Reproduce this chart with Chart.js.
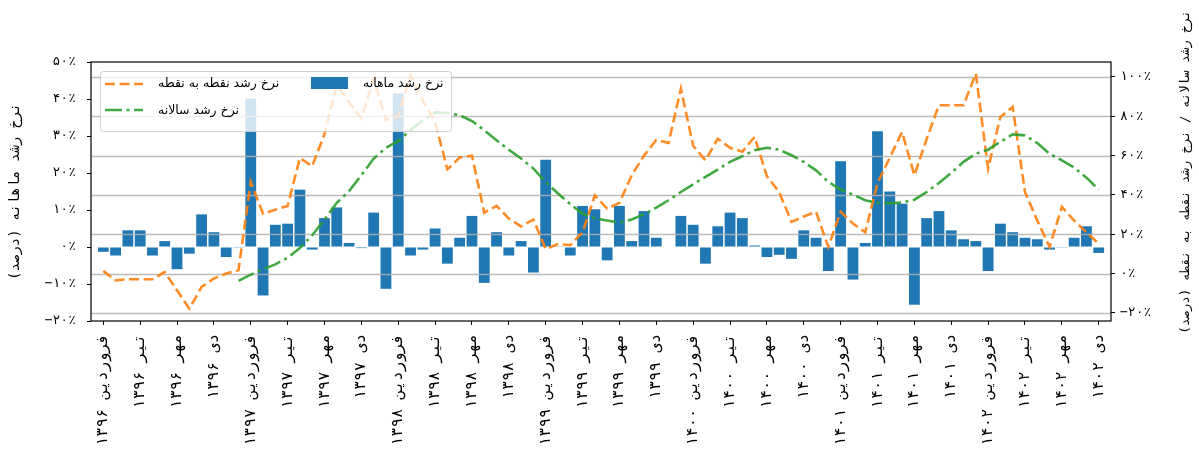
<!DOCTYPE html>
<html>
<head>
<meta charset="utf-8">
<script src="https://cdn.jsdelivr.net/npm/chart.js@4"></script>
<style>
  html, body { margin: 0; padding: 0; background: #fff; }
</style>
</head>
<body>
<canvas id="growthChart" width="1199" height="450"></canvas>
<script>
// x tick labels, one every three months (Farvardin 1396 .. Dey 1402)
var tickLabels = [
    'فروردین ۱۳۹۶', 'تیر ۱۳۹۶', 'مهر ۱۳۹۶', 'دی ۱۳۹۶',
    'فروردین ۱۳۹۷', 'تیر ۱۳۹۷', 'مهر ۱۳۹۷', 'دی ۱۳۹۷',
    'فروردین ۱۳۹۸', 'تیر ۱۳۹۸', 'مهر ۱۳۹۸', 'دی ۱۳۹۸',
    'فروردین ۱۳۹۹', 'تیر ۱۳۹۹', 'مهر ۱۳۹۹', 'دی ۱۳۹۹',
    'فروردین ۱۴۰۰', 'تیر ۱۴۰۰', 'مهر ۱۴۰۰', 'دی ۱۴۰۰',
    'فروردین ۱۴۰۱', 'تیر ۱۴۰۱', 'مهر ۱۴۰۱', 'دی ۱۴۰۱',
    'فروردین ۱۴۰۲', 'تیر ۱۴۰۲', 'مهر ۱۴۰۲', 'دی ۱۴۰۲'
];
var tickStep = 3;

// monthly growth (%), left axis
var monthly = [
    -1.3, -2.3, 4.5, 4.5, -2.3, 1.6, -6.0, -1.8, 8.8, 4.0, -2.7, -0.2,
    40.1, -13.1, 6.0, 6.3, 15.5, -0.7, 7.8, 10.7, 1.1, -0.3, 9.3, -11.3,
    41.5, -2.3, -0.7, 5.0, -4.5, 2.5, 8.4, -9.7, 4.0, -2.3, 1.6, -6.9,
    23.6, 0.2, -2.3, 11.1, 10.2, -3.6, 11.1, 1.6, 9.7, 2.5, 0.0, 8.4,
    6.0, -4.5, 5.6, 9.3, 7.8, 0.4, -2.7, -2.1, -3.2, 4.5, 2.5, -6.5,
    23.2, -8.8, 1.1, 31.3, 15.0, 11.7, -15.6, 7.8, 9.7, 4.5, 2.1, 1.6,
    -6.5, 6.3, 4.0, 2.5, 2.1, -0.7, -0.2, 2.5, 5.6, -1.6
];

// point-to-point growth (%), right axis
var pointToPoint = [
    1.4, -3.4, -2.9, -2.9, -2.9, 0.8, -8.5, -17.8, -6.8, -2.5, 0.0, 1.7,
    46.6, 30.5, 32.5, 34.4, 58.8, 54.6, 71, 96, 87, 79, 99, 78,
    80, 101, 88, 77, 53, 59, 60, 31, 34.5, 28, 24, 27.5,
    12.5, 15, 14.5, 21, 39.8, 33, 36, 50, 60, 68, 66.5, 94,
    65, 57.6, 68.6, 64, 62, 69.5, 49.5, 41.5, 26.3, 29, 31.4, 13.6,
    31.5, 25.5, 21, 46, 59, 72, 50, 68.5, 85.6, 85.6, 85.6, 101.7,
    53.4, 79.7, 84.7, 41.5, 27, 13.6, 33.9, 27, 21, 15.3
];

// annual growth (%), right axis, first value is Esfand 1396
var annualStart = 11;
var annual = [
    -3.7,
    -0.5, 2.2, 4.7, 8.1, 13, 19.5, 27.5, 36, 42, 50, 58.5, 64,
    67.5, 73, 78, 82, 81.7, 80.5, 77.6, 72.9, 67.8, 63, 58.5, 53.4,
    46.6, 40.7, 35.3, 30.5, 28, 27, 26, 27.5, 30.2, 33.6, 37.3, 41.5,
    45.4, 49.2, 52.9, 56.8, 59.7, 62.7, 64, 63, 60.2, 56.8, 52.5, 46.6,
    42.7, 40.2, 37.3, 36, 35.8, 36.1, 37.6, 41.5, 46.1, 51.2, 56.8, 61,
    63, 67, 70.8, 70.3, 66.4, 61, 57.6, 53.9, 48.8, 42.7
];

var leftTicks = [-20, -10, 0, 10, 20, 30, 40, 50];
var rightTicks = [-20, 0, 20, 40, 60, 80, 100];

var seriesNames = ['نرخ رشد ماهانه', 'نرخ رشد نقطه به نقطه', 'نرخ رشد سالانه'];
var leftTitle = 'نرخ رشد ماهانه (درصد)';
var rightTitle = 'نرخ رشد سالانه / نرخ رشد نقطه به نقطه (درصد)';

var FONT = "'DejaVu Sans', sans-serif";
var AXIS_FONT = "'DejaVu Sans Mono', 'DejaVu Sans', monospace";

function toFa(n) {
    var s = String(Math.abs(n)).replace(/[0-9]/g, function (d) {
        return '۰۱۲۳۴۵۶۷۸۹'[d];
    });
    return (n < 0 ? '−' : '') + s + '٪';
}

function points(values, start) {
    return values.map(function (v, i) { return { x: i + start, y: v }; });
}

function fixTicks(values) {
    return function (scale) {
        scale.ticks = values.map(function (v) { return { value: v }; });
    };
}

// grid of the right axis, drawn over the bars but under the lines
var gridOverBars = {
    id: 'gridOverBars',
    afterDatasetDraw: function (chart, args) {
        if (args.index !== 0) return;
        var ctx = chart.ctx, area = chart.chartArea, y2 = chart.scales.y2;
        ctx.save();
        ctx.strokeStyle = 'rgba(176,176,176,0.85)';
        ctx.lineWidth = 1.3;
        rightTicks.forEach(function (v) {
            var y = Math.round(y2.getPixelForValue(v)) + 0.5;
            ctx.beginPath();
            ctx.moveTo(area.left, y);
            ctx.lineTo(area.right, y);
            ctx.stroke();
        });
        ctx.restore();
    }
};

// frame, right axis title and the boxed legend
var frameAndLegend = {
    id: 'frameAndLegend',
    afterDraw: function (chart) {
        var ctx = chart.ctx, area = chart.chartArea;
        var ds = chart.data.datasets;
        ctx.save();

        ctx.strokeStyle = '#000';
        ctx.lineWidth = 1.2;
        ctx.strokeRect(area.left, area.top, area.right - area.left, area.bottom - area.top);

        ctx.fillStyle = '#000';
        ctx.font = '12.5px ' + AXIS_FONT;
        ctx.textAlign = 'center';
        ctx.textBaseline = 'middle';
        ctx.translate(1186, 172);
        ctx.rotate(-Math.PI / 2);
        ctx.fillText(rightTitle, 0, 0);
        ctx.setTransform(1, 0, 0, 1, 0, 0);

        ctx.beginPath();
        ctx.roundRect(100.5, 71.5, 351, 60, 3);
        ctx.fillStyle = 'rgba(255,255,255,0.8)';
        ctx.fill();
        ctx.strokeStyle = 'rgba(204,204,204,0.9)';
        ctx.lineWidth = 1;
        ctx.stroke();

        function handle(d, y) {
            ctx.beginPath();
            ctx.strokeStyle = d.borderColor;
            ctx.lineWidth = d.borderWidth;
            ctx.setLineDash(d.borderDash);
            ctx.moveTo(105, y);
            ctx.lineTo(143, y);
            ctx.stroke();
            ctx.setLineDash([]);
        }
        handle(ds[1], 84);
        handle(ds[2], 110);
        ctx.fillStyle = ds[0].backgroundColor;
        ctx.fillRect(311, 77, 37, 12);

        ctx.fillStyle = '#000';
        ctx.font = '12.5px ' + FONT;
        ctx.textAlign = 'left';
        ctx.textBaseline = 'middle';
        ctx.fillText(ds[1].label, 158, 84);
        ctx.fillText(ds[2].label, 158, 111);
        ctx.fillText(ds[0].label, 363, 84);
        ctx.restore();
    }
};

var chart = new Chart(document.getElementById('growthChart'), {
    type: 'bar',
    data: {
        datasets: [{
            type: 'bar',
            label: seriesNames[0],
            data: points(monthly, 0),
            yAxisID: 'y',
            backgroundColor: '#1f77b4',
            borderWidth: 0,
            barPercentage: 0.88,
            categoryPercentage: 1.0,
            order: 3
        }, {
            type: 'line',
            label: seriesNames[1],
            data: points(pointToPoint, 0),
            yAxisID: 'y2',
            borderColor: 'rgba(255,127,14,0.9)',
            borderWidth: 2.6,
            borderDash: [10, 4.5],
            pointRadius: 0,
            tension: 0,
            fill: false,
            order: 2
        }, {
            type: 'line',
            label: seriesNames[2],
            data: points(annual, annualStart),
            yAxisID: 'y2',
            borderColor: 'rgba(44,160,44,0.9)',
            borderWidth: 2.6,
            borderDash: [17, 4.5, 3, 4.5],
            pointRadius: 0,
            tension: 0,
            fill: false,
            order: 1
        }]
    },
    options: {
        responsive: false,
        animation: false,
        layout: { padding: { top: 62, left: 0, right: 0, bottom: 0 } },
        plugins: {
            legend: { display: false },
            tooltip: { enabled: false }
        },
        scales: {
            x: {
                type: 'linear',
                position: 'bottom',
                min: -1,
                max: 82,
                offset: false,
                afterBuildTicks: function (scale) {
                    scale.ticks = tickLabels.map(function (t, k) { return { value: k * tickStep }; });
                },
                afterFit: function (scale) { scale.height = 129; },
                ticks: {
                    autoSkip: false,
                    minRotation: 90,
                    maxRotation: 90,
                    padding: 9,
                    color: '#000',
                    font: { family: AXIS_FONT, size: 15.5 },
                    callback: function (v) { return tickLabels[Math.round(v / tickStep)]; }
                },
                grid: { offset: false, drawOnChartArea: false, drawTicks: true, tickLength: 4, tickColor: '#000' },
                border: { display: false }
            },
            y: {
                type: 'linear',
                position: 'left',
                min: -20,
                max: 50,
                afterBuildTicks: fixTicks(leftTicks),
                afterFit: function (scale) { scale.width = 91; },
                ticks: {
                    padding: 11,
                    color: '#000',
                    font: { family: AXIS_FONT, size: 13 },
                    callback: function (v) { return toFa(v); }
                },
                grid: { drawOnChartArea: false, drawTicks: true, tickLength: 4, tickColor: '#000' },
                border: { display: false },
                title: {
                    display: true,
                    text: leftTitle,
                    color: '#000',
                    font: { family: AXIS_FONT, size: 14 },
                    padding: { top: 7, bottom: 0 }
                }
            },
            y2: {
                type: 'linear',
                position: 'right',
                min: -24.1,
                max: 107.6,
                afterBuildTicks: fixTicks(rightTicks),
                afterFit: function (scale) { scale.width = 88; },
                ticks: {
                    padding: 5,
                    color: '#000',
                    font: { family: AXIS_FONT, size: 13 },
                    callback: function (v) { return toFa(v); }
                },
                grid: { drawOnChartArea: false, drawTicks: true, tickLength: 4, tickColor: '#000' },
                border: { display: false }
            }
        }
    },
    plugins: [gridOverBars, frameAndLegend]
});
</script>
</body>
</html>
